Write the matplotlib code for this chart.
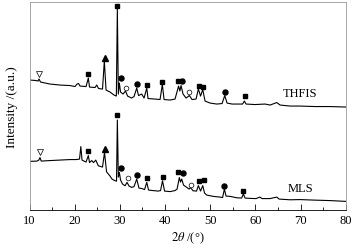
import matplotlib
matplotlib.use('Agg')
import matplotlib.pyplot as plt
from matplotlib.ticker import MultipleLocator

plt.rcParams['font.family'] = ['Liberation Serif', 'DejaVu Serif']
plt.rcParams['mathtext.fontset'] = 'stix'

# XRD patterns (2theta in degrees, intensity in arbitrary units)
thfis_2theta = [10.11, 11.44, 11.88, 12.10, 12.44, 14.54, 16.75, 18.97, 20.07, 20.52,
                20.85, 21.18, 22.51, 23.02, 23.28, 24.50, 24.88, 25.28, 26.16, 26.56,
                26.94, 27.82, 28.71, 29.22, 29.44, 29.66, 29.88, 30.15, 30.70, 31.25,
                31.70, 32.58, 33.13, 33.73, 34.13, 34.84, 35.35, 35.95, 36.23, 37.78,
                38.89, 39.40, 39.78, 41.11, 42.21, 42.99, 43.28, 43.54, 43.98, 44.65,
                45.38, 45.98, 46.86, 47.37, 47.86, 48.34, 48.85, 49.96, 51.44, 52.62,
                53.21, 53.72, 54.83, 56.16, 57.16, 57.55, 57.93, 59.92, 62.14, 63.24,
                64.73, 65.46, 67.67, 69.89, 73.21, 76.53, 80.00]
thfis_int = [129.5, 129, 128.5, 130.5, 127.5, 125.5, 124.5, 124, 123, 125.5,
             126, 123.5, 123, 131.5, 122.5, 122, 124.5, 121, 120.5, 148.5,
             119.5, 117.5, 114.5, 113.5, 200.5, 115.5, 126.5, 117.5, 115.5, 118.5,
             113.5, 111.5, 113, 121.5, 114, 115.5, 111.5, 121.5, 111, 110.5,
             110, 125, 110, 109.5, 110.5, 123.5, 118.5, 124, 115.5, 111.5,
             114, 110, 110.5, 120.5, 113.5, 120, 108.5, 106.5, 105.5, 106,
             114, 106.5, 105.5, 105.5, 105.5, 108.5, 105.5, 105, 105.5, 104.5,
             107, 104.5, 103.5, 103.5, 103, 103, 102.5]

mls_2theta = [10.11, 11.66, 12.06, 12.32, 12.59, 14.54, 16.75, 18.97, 20.29, 21.07,
              21.36, 21.62, 22.51, 23.02, 23.28, 23.77, 24.17, 24.66, 25.23, 26.16,
              26.60, 27.05, 27.82, 28.26, 28.93, 29.26, 29.44, 29.66, 29.88, 30.15,
              30.60, 31.14, 31.59, 32.03, 32.63, 33.13, 33.73, 34.23, 34.91, 35.46,
              35.95, 36.35, 37.34, 38.45, 39.00, 39.44, 39.89, 41.11, 42.21, 42.66,
              43.16, 43.43, 43.69, 44.09, 44.80, 45.31, 45.64, 46.20, 46.97, 47.37,
              47.86, 48.34, 48.74, 49.23, 50.69, 52.17, 52.73, 53.13, 53.50, 54.39,
              55.87, 56.94, 57.33, 57.71, 58.81, 60.14, 60.96, 61.47, 63.24, 64.73,
              65.24, 67.67, 69.89, 72.83, 76.53, 80.00]
mls_int = [48.2, 48.5, 49.5, 52, 48.5, 49, 49.5, 50, 50, 50.5,
           63, 49.5, 47.5, 54, 47, 49, 47, 49.5, 43.8, 42.5,
           57.2, 37.8, 33.5, 30.5, 28.8, 28.5, 89.5, 32.5, 37.2, 29.5,
           25.5, 23.8, 27.2, 23.5, 22.2, 23, 30.5, 21.5, 21, 20,
           27.2, 19.5, 19, 18.5, 19, 28.8, 18.5, 18, 19, 20.5,
           32, 27.5, 30.5, 24.5, 22.2, 20.5, 22, 18.8, 18.5, 24,
           18.5, 24, 16.5, 14.5, 13.2, 12.5, 12, 20.5, 13.5, 13.2,
           11.8, 11.5, 15.5, 11.5, 11.2, 11, 12.5, 11, 11, 12.5,
           10.5, 9.8, 10, 9.5, 9, 8.2]

# phase markers (2theta, intensity) for each symbol
square_2theta = [23.02, 29.44, 35.95, 39.40, 42.94, 47.53, 48.48, 57.71,
                 23.02, 29.44, 35.95, 39.49, 42.94, 47.53, 48.63, 57.33]
square_int = [135.2, 203.2, 124.5, 127.8, 128.5, 123.2, 122.5, 113.8,
              58.2, 94.5, 31.2, 32.8, 37.2, 28.2, 29.2, 18.8]
dot_2theta = [30.19, 33.73, 43.76, 53.28, 30.19, 33.73, 44.05, 53.13]
dot_int = [131.5, 125.2, 129, 117.8, 42, 34.5, 36.5, 23.8]
ring_2theta = [31.36, 45.38, 31.87, 45.69]
ring_int = [121.5, 117.2, 31.2, 24.8]
tri_2theta = [26.65, 26.65]
tri_int = [151.8, 60.5]
tri_down_2theta = [12.17, 12.32]
tri_down_int = [135.5, 57.8]

fig = plt.figure(figsize=(3.59, 2.51), dpi=100)
ax = fig.add_axes([0.0822, 0.161, 0.881, 0.827])

ax.plot(thfis_2theta, thfis_int, color='black', lw=0.8)
ax.plot(mls_2theta, mls_int, color='black', lw=0.8)

ax.plot(square_2theta, square_int, 's', color='black', ms=3.4, ls='none')
ax.plot(dot_2theta, dot_int, 'o', color='black', ms=3.6, ls='none')
ax.plot(ring_2theta, ring_int, 'o', mfc='white', mec='black', mew=0.5, ms=3.4, ls='none')
ax.plot(tri_2theta, tri_int, '^', color='black', ms=4.2, ls='none')
ax.plot(tri_down_2theta, tri_down_int, 'v', mfc='white', mec='black', mew=0.5, ms=4.2, ls='none')

ax.text(69.8, 116.2, 'THFIS', ha='center', va='center', fontsize=9)
ax.text(69.9, 21.5, 'MLS', ha='center', va='center', fontsize=9)

ax.set_xlim(10, 80)
ax.set_ylim(0, 207.5)
ax.xaxis.set_major_locator(MultipleLocator(10))
ax.xaxis.set_minor_locator(MultipleLocator(5))
ax.tick_params(axis='x', which='major', direction='in', length=4, width=0.6, labelsize=9, pad=3)
ax.tick_params(axis='x', which='minor', direction='in', length=2.5, width=0.6)
ax.set_yticks([])
for side in ['top', 'right', 'left']:
    ax.spines[side].set_color('#999999')
    ax.spines[side].set_linewidth(0.6)
ax.spines['bottom'].set_linewidth(0.6)

ax.set_xlabel(r'$2\theta$ /(°)', fontsize=9, labelpad=3)
ax.set_ylabel('Intensity /(a.u.)', fontsize=9.5, labelpad=8)

fig.savefig('out.png', dpi=100)
